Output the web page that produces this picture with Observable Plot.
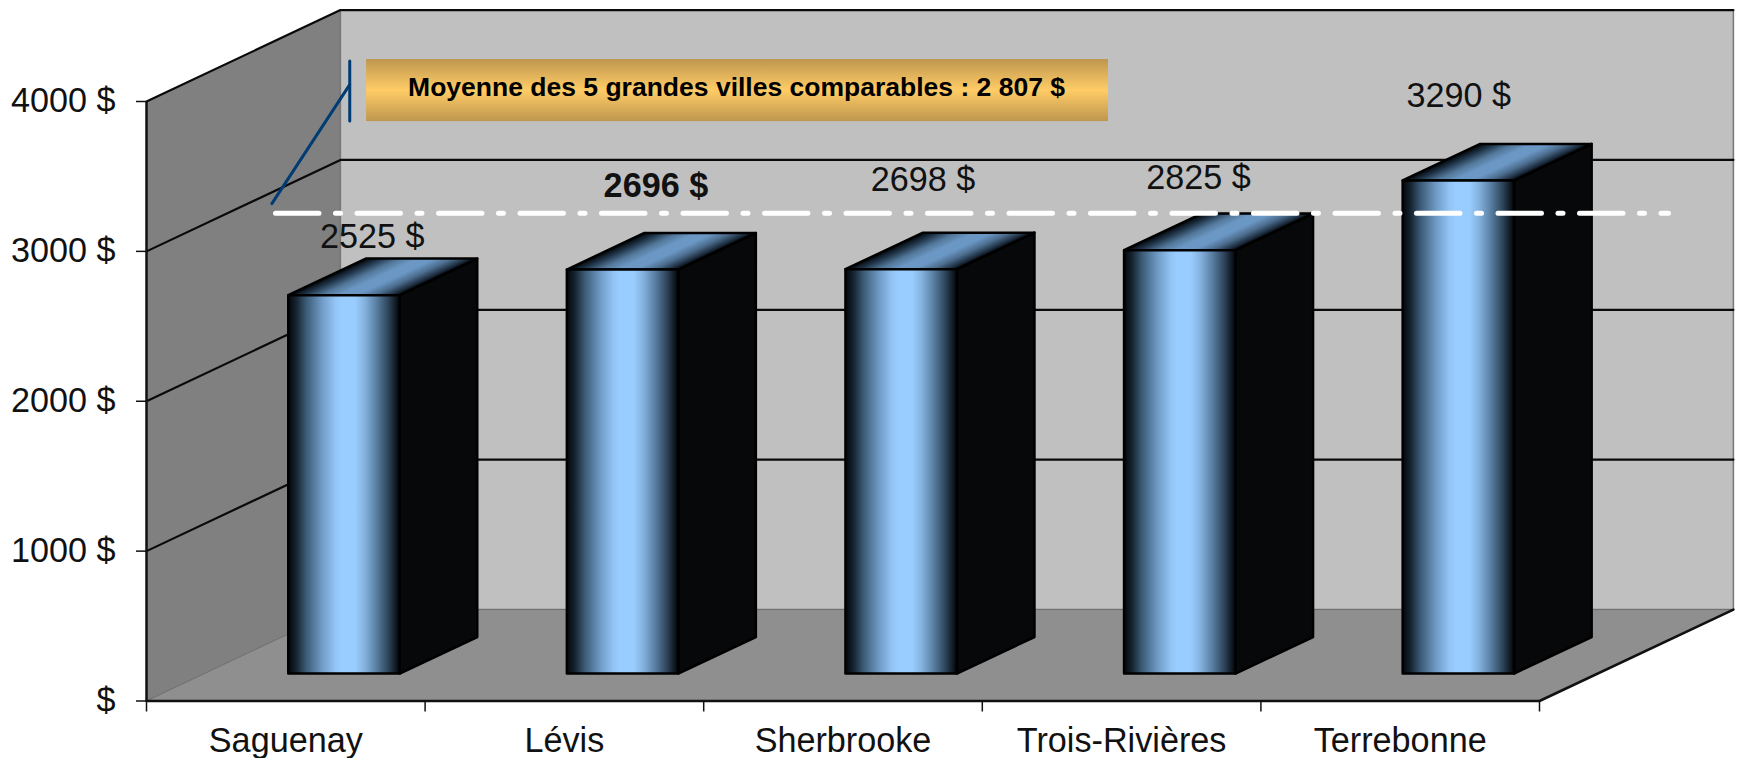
<!DOCTYPE html>
<html lang="fr">
<head>
<meta charset="utf-8">
<title>Moyenne des 5 grandes villes comparables</title>
<script src="https://cdn.jsdelivr.net/npm/d3@7"></script>
<script src="https://cdn.jsdelivr.net/npm/@observablehq/plot@0.6"></script>
<style>
  html, body { margin: 0; padding: 0; background: #fff; overflow: hidden; }
  svg { display: block; }
</style>
</head>
<body>
<div id="chart"></div>
<script>
// ---- data ----
const cities = ["Saguenay", "Lévis", "Sherbrooke", "Trois-Rivières", "Terrebonne"];
const values = [2525, 2696, 2698, 2825, 3290];
const yTicks = [0, 1000, 2000, 3000, 4000];
const average = 2807;
const bannerText = "Moyenne des 5 grandes villes comparables : 2 807 $";
const boldCity = "Lévis";

// ---- oblique 3-D projection, in data units ----
const skewX = 0.696;   // category widths per unit of depth
const skewY = 610;     // dollars per unit of depth
const P = (i, v, d) => ({x: i + d * skewX, y: v + d * skewY});
const nCat = cities.length, yMax = yTicks[yTicks.length - 1];
const barLo = 0.3, barW = 0.4, d0 = 0.3, d1 = 0.7;

const leftWall = [P(0, 0, 0), P(0, yMax, 0), P(0, yMax, 1), P(0, 0, 1)];
const backWall = [P(0, 0, 1), P(0, yMax, 1), P(nCat, yMax, 1), P(nCat, 0, 1)];
const floor = [P(0, 0, 0), P(nCat, 0, 0), P(nCat, 0, 1), P(0, 0, 1)];

const grid = yTicks.slice(1).flatMap(t => [P(0, t, 0), P(0, t, 1), P(nCat, t, 1)].map(p => ({...p, t})));

const face = fn => cities.flatMap((c, i) => {
  const a = i + barLo, b = a + barW, v = values[i];
  return fn(a, b, v).map(p => ({...p, c}));
});
const fronts = face((a, b, v) => [P(a, 0, d0), P(a, v, d0), P(b, v, d0), P(b, 0, d0)]);
const sides  = face((a, b, v) => [P(b, 0, d0), P(b, v, d0), P(b, v, d1), P(b, 0, d1)]);
const tops   = face((a, b, v) => [P(a, v, d0), P(a, v, d1), P(b, v, d1), P(b, v, d0)]);

// label placement, in pixels from the category centre at its value
const labelShift = [[86.5, -86], [91.5, -111], [80, -116.6], [77, -100], [58.5, -111.4]];

// annotation geometry in data units
const avgDepthValue = average + 0.734 * skewY;
const avgLine = [{x: 0.463, y: avgDepthValue}, {x: 5.463, y: avgDepthValue}];
const banner = [{x1: 0.79, x2: 3.453, y1: 3866, y2: 4280}];
const leaderV = [{x: 0.7295, y: 3870}, {x: 0.7295, y: 4270}];
const leaderD = [{x: 0.45, y: 3319}, {x: 0.7295, y: 4113}];

const font = "'Liberation Sans', Arial, sans-serif";
const labelSize = 34.2;

// ---- gradients ----
function defs() {
  const d = d3.create("svg:defs");
  const stops = (g, arr) => arr.forEach(([o, c]) =>
    g.append("stop").attr("offset", o).attr("stop-color", c));
  stops(d.append("linearGradient").attr("id", "front"), [
    [0, "#02060a"], [0.07, "#15232f"], [0.16, "#3b5a75"], [0.3, "#6f9ac5"],
    [0.42, "#92c4f5"], [0.47, "#99ccff"], [0.6, "#99ccff"], [0.68, "#86b4e0"], [0.78, "#5e85aa"], [0.9, "#2d4358"], [0.97, "#0e161e"], [1, "#02060a"]
  ]);
  stops(d.append("linearGradient").attr("id", "top")
    .attr("x1", 0).attr("x2", 1).attr("y1", 0).attr("y2", 0)
    .attr("gradientTransform", "matrix(0.587 0 -0.413 1 0.413 0)"), [
    [0, "#02060a"], [0.14, "#22384d"], [0.3, "#527799"], [0.46, "#6b97c4"],
    [0.62, "#6b97c4"], [0.78, "#4c6d8e"], [0.92, "#1f3042"], [1, "#02060a"]
  ]);
  stops(d.append("linearGradient").attr("id", "gold")
    .attr("x1", 0).attr("x2", 0).attr("y1", 0).attr("y2", 1), [
    [0, "#be964e"], [0.5, "#ffcc66"], [1, "#be964e"]
  ]);
  return d.node();
}

const chart = Plot.plot({
  width: 1737,
  height: 758,
  marginLeft: 146,
  marginRight: 198,
  marginTop: 101,
  marginBottom: 57.5,
  style: {background: "#fff", fontFamily: font, overflow: "visible"},
  x: {type: "linear", domain: [0, nCat]},
  y: {type: "linear", domain: [0, yMax]},
  marks: [
    defs,
    // walls and floor
    Plot.line(leftWall, {x: "x", y: "y", fill: "#808080", stroke: "#6a6a6a", strokeWidth: 1, curve: "linear-closed"}),
    Plot.line(backWall, {x: "x", y: "y", fill: "#c0c0c0", stroke: "#777777", strokeWidth: 1.5, curve: "linear-closed"}),
    Plot.line(floor, {x: "x", y: "y", fill: "#8f8f8f", stroke: "#6f6f6f", strokeWidth: 1, curve: "linear-closed"}),
    // gridlines
    Plot.line(grid, {x: "x", y: "y", z: "t", stroke: "#0a0a0a", strokeWidth: 2.2, curve: "linear"}),
    // floor edges
    Plot.line([P(0, 0, 0), P(nCat, 0, 0), P(nCat, 0, 1)], {x: "x", y: "y", stroke: "#111", strokeWidth: 2.5}),
    // axes
    Plot.ruleX([0], {y1: 0, y2: yMax, stroke: "#111", strokeWidth: 2.5}),
    Plot.axisY({
      ticks: yTicks, tickSize: 10, tickPadding: 21, fontSize: labelSize, color: "#111",
      tickFormat: d => d === 0 ? "$" : `${d} $`, label: null, strokeWidth: 1.5
    }),
    Plot.axisX({ticks: d3.range(nCat + 1), tickSize: 11, tickFormat: () => "", label: null, strokeWidth: 1.5, color: "#111"}),
    Plot.axisX({
      ticks: cities.map((c, i) => i + 0.5), tickSize: 0, tickPadding: 27, fontSize: labelSize,
      tickFormat: d => cities[d - 0.5], label: null, color: "#111"
    }),
    // bars
    Plot.line(sides, {x: "x", y: "y", z: "c", fill: "#07080a", stroke: "#000", strokeWidth: 2.5, curve: "linear-closed"}),
    Plot.line(tops, {x: "x", y: "y", z: "c", fill: "url(#top)", stroke: "#000", strokeWidth: 2.5, curve: "linear-closed"}),
    Plot.line(fronts, {x: "x", y: "y", z: "c", fill: "url(#front)", stroke: "#000", strokeWidth: 2.5, curve: "linear-closed"}),
    // average line and banner
    Plot.line(avgLine, {x: "x", y: "y", stroke: "#fff", strokeWidth: 5, strokeDasharray: "43.5 16.5 5 16.5"}),
    Plot.line(leaderV, {x: "x", y: "y", stroke: "#003c74", strokeWidth: 3}),
    Plot.line(leaderD, {x: "x", y: "y", stroke: "#003c74", strokeWidth: 3}),
    Plot.rect(banner, {x1: "x1", x2: "x2", y1: "y1", y2: "y2", fill: "url(#gold)"}),
    Plot.text([bannerText], {
      x: (banner[0].x1 + banner[0].x2) / 2, y: (banner[0].y1 + banner[0].y2) / 2, dy: -3.5, dx: -1,
      text: d => d, fontSize: 26.5, fontWeight: "bold", fill: "#000"
    }),
    // value labels
    ...cities.map((c, i) => Plot.text([values[i]], {
      x: i + 0.5, y: d => d, dx: labelShift[i][0], dy: labelShift[i][1],
      text: d => `${d} $`, fontSize: labelSize, fill: "#111",
      fontWeight: c === boldCity ? "bold" : "normal"
    }))
  ]
});
document.getElementById("chart").appendChild(chart);
</script>
</body>
</html>
